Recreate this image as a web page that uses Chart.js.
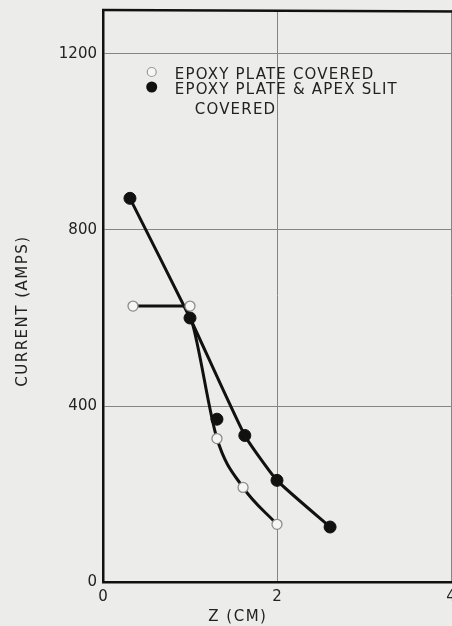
<!DOCTYPE html>
<html>
<head>
<meta charset="utf-8">
<script src="https://cdn.jsdelivr.net/npm/chart.js@4.4.1/dist/chart.umd.min.js"></script>
<style>
  html, body { margin: 0; padding: 0; overflow: hidden; background: #ececea; }
  #wrap { width: 462px; height: 626px; }
</style>
</head>
<body>
<div id="wrap"><canvas id="chart" width="462" height="626"></canvas></div>
<script>
// Datos
const openZ = [0.345, 1.0, 1.31, 1.61, 2.0];
const openAmps = [627, 627, 326, 215, 131];
const slitZ = [0.31, 1.0, 1.31, 1.63, 2.0, 2.61];
const slitAmps = [872, 600, 370, 333, 231, 125];

// Curvas dibujadas a mano (no pasan por todos los puntos)
const openCurveZ = [0.345, 0.93, 1.02, 1.31, 1.61, 2.0];
const openCurveAmps = [627, 627, 593, 326, 215, 131];
const slitCurveZ = [0.31, 1.0, 1.63, 2.0, 2.61];
const slitCurveAmps = [872, 600, 333, 231, 125];

const xTicks = [0, 2, 4];
const yTicks = [0, 400, 800, 1200];
const legendLabels = ["EPOXY PLATE COVERED", "EPOXY PLATE & APEX SLIT", "COVERED"];
const xTitle = "Z (CM)";
const yTitle = "CURRENT (AMPS)";

const toPoints = (xs, ys) => xs.map((x, i) => ({ x: x, y: ys[i] }));

const FONT = "'DejaVu Sans', sans-serif";
const INK = "#222";

// Fondo, marco, leyenda y titulos de ejes
const paperPlugin = {
    id: "paper",
    beforeDraw(chart) {
        const ctx = chart.ctx;
        ctx.save();
        ctx.fillStyle = "#ececea";
        ctx.fillRect(0, 0, chart.width, chart.height);
        ctx.restore();
    },
    afterDraw(chart) {
        const ctx = chart.ctx;
        const area = chart.chartArea;
        const xs = chart.scales.x;
        const ys = chart.scales.y;
        const y1200 = ys.getPixelForValue(1200);
        ctx.save();
        // borde superior
        ctx.strokeStyle = "#111";
        ctx.lineWidth = 2.5;
        ctx.beginPath();
        ctx.moveTo(area.left - 1, area.top);
        ctx.lineTo(area.right + 12, area.top + 1.5);
        ctx.stroke();

        // leyenda
        const mx = xs.getPixelForValue(0.56);
        ctx.fillStyle = "#f6f6f4";
        ctx.strokeStyle = "#9a9a9a";
        ctx.lineWidth = 1.2;
        ctx.beginPath();
        ctx.arc(mx, y1200 + 18, 4.5, 0, Math.PI * 2);
        ctx.fill();
        ctx.stroke();
        ctx.fillStyle = "#111";
        ctx.beginPath();
        ctx.arc(mx, y1200 + 33, 5.5, 0, Math.PI * 2);
        ctx.fill();

        ctx.fillStyle = INK;
        ctx.font = "15px " + FONT;
        ctx.letterSpacing = "1.2px";
        ctx.textBaseline = "middle";
        ctx.textAlign = "left";
        ctx.fillText(legendLabels[0], mx + 23, y1200 + 21.5);
        ctx.fillText(legendLabels[1], mx + 23, y1200 + 36.5);
        ctx.fillText(legendLabels[2], mx + 43, y1200 + 56);

        // titulo eje x
        ctx.letterSpacing = "1.5px";
        ctx.textAlign = "center";
        ctx.fillText(xTitle, xs.getPixelForValue(1.55), area.bottom + 35);

        // titulo eje y
        ctx.translate(23, (area.top + area.bottom) / 2 + 15);
        ctx.rotate(-Math.PI / 2);
        ctx.fillText(yTitle, 0, 0);
        ctx.restore();
    }
};

const curveStyle = {
    showLine: true,
    borderColor: "#111",
    borderWidth: 3,
    pointRadius: 0,
    tension: 0.15
};

const chart = new Chart(document.getElementById("chart"), {
    type: "scatter",
    data: {
        datasets: [
            {
                label: legendLabels[0],
                data: toPoints(openZ, openAmps),
                pointRadius: 5,
                pointBackgroundColor: "#f6f6f4",
                pointBorderColor: "#8c8c8c",
                pointBorderWidth: 1.3,
                order: 0
            },
            {
                label: legendLabels[1] + " " + legendLabels[2],
                data: toPoints(slitZ, slitAmps),
                pointRadius: 6,
                pointBackgroundColor: "#111",
                pointBorderColor: "#111",
                pointBorderWidth: 1,
                order: 1
            },
            Object.assign({ label: "open curve", data: toPoints(openCurveZ, openCurveAmps), order: 2 },
                curveStyle, { cubicInterpolationMode: "monotone" }),
            Object.assign({ label: "slit curve", data: toPoints(slitCurveZ, slitCurveAmps), order: 3 }, curveStyle)
        ]
    },
    options: {
        responsive: false,
        animation: false,
        devicePixelRatio: 1,
        layout: { padding: { left: 0, right: 11, top: 10, bottom: 0 } },
        plugins: {
            legend: { display: false },
            tooltip: { enabled: false }
        },
        scales: {
            x: {
                type: "linear",
                min: 0,
                max: 4,
                afterBuildTicks: s => { s.ticks = xTicks.map(v => ({ value: v })); },
                afterFit: s => { s.height = 44; s.paddingLeft = 0; s.paddingRight = 0; },
                grid: { color: "#858585", lineWidth: 1, drawTicks: false },
                border: { color: "#111", width: 2.5 },
                ticks: {
                    padding: 6,
                    color: INK,
                    font: { family: FONT, size: 15 },
                    maxRotation: 0,
                    callback: v => String(v)
                }
            },
            y: {
                type: "linear",
                min: 0,
                max: 1300,
                afterBuildTicks: s => { s.ticks = yTicks.map(v => ({ value: v })); },
                afterFit: s => { s.width = 103; s.paddingTop = 0; s.paddingBottom = 0; },
                grid: { color: "#858585", lineWidth: 1, drawTicks: false },
                border: { color: "#111", width: 2.5 },
                ticks: {
                    padding: 6,
                    color: INK,
                    font: { family: FONT, size: 15 },
                    callback: v => String(v)
                }
            }
        }
    },
    plugins: [paperPlugin]
});
</script>
</body>
</html>
